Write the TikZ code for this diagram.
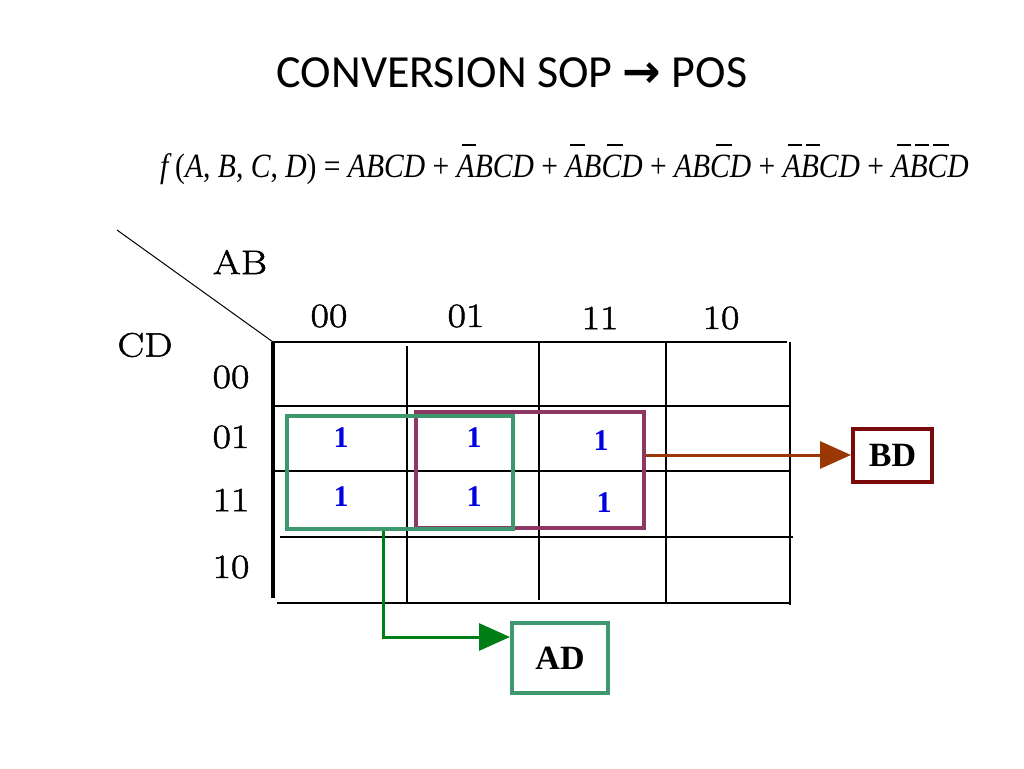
\documentclass[tikz,border=0pt]{standalone}
\usepackage{fontspec}
\usetikzlibrary{arrows.meta}
\newfontfamily\calib{Carlito}
\newfontfamily\tnr{Liberation Serif}
\newfontfamily\fml[FakeStretch=0.87]{Liberation Serif}
\newfontfamily\kfont[FakeStretch=1.18,FakeBold=1.5]{Latin Modern Roman}
\newfontfamily\arrowfont{DejaVu Sans}
\definecolor{loopgreen}{RGB}{62,152,110}
\definecolor{looppurple}{RGB}{140,55,100}
\definecolor{arrbrown}{RGB}{155,55,5}
\definecolor{arrgreen}{RGB}{0,125,20}
\definecolor{bdred}{RGB}{125,10,10}
\definecolor{oneblue}{RGB}{0,0,225}
\newcommand\ob[1]{\setbox0=\hbox{#1}\makebox[0pt][l]{\hspace*{0.28\wd0}\raisebox{0.92em}{\rule{0.8\wd0}{0.05em}}}#1}
\newcommand\I[1]{{\itshape #1}}
\begin{document}
\begin{tikzpicture}[x=1pt,y=-1pt,
  gridline/.style={line width=2pt,black},
  lbl/.style={inner sep=0pt,font=\kfont\fontsize{34}{40}\selectfont},
  one/.style={inner sep=0pt,text=oneblue,font=\tnr\bfseries\fontsize{30}{34}\selectfont},
  loopbox/.style={draw,line width=4pt,minimum width=#1,inner sep=0pt},
  resbox/.style={draw,line width=4pt,inner sep=0pt,font=\tnr\bfseries\fontsize{34}{40}\selectfont},
  conn/.style={line width=3pt,-{Triangle[length=31pt,width=27pt]}}]
\useasboundingbox (0,0) rectangle (1024,768);
\fill[white] (0,0) rectangle (1024,768);
% title
\node[font=\calib\fontsize{46}{54}\selectfont,inner sep=0pt] (title) at (512,73) {CONVERSION SOP {\arrowfont\bfseries →} POS};
% formula
\node[anchor=base west,inner sep=0pt,font=\fml\fontsize{34}{40}\selectfont] (formula) at (160,177)
  {\I{f}\hspace{0.2em}(\I{A}, \I{B}, \I{C}, \I{D}) = \I{ABCD} + \I{\ob{A}BCD} + \I{\ob{A}B\ob{C}D} + \I{AB\ob{C}D} + \I{\ob{A}\ob{B}CD} + \I{\ob{A}\ob{B}\ob{C}D}};
% diagonal
\coordinate (diagstart) at (117,230);
\coordinate (corner) at (273,342);
\draw[line width=1pt] (diagstart) -- (corner);
% grid
\draw[line width=3.5pt] (273,342) -- (273,598);
\draw[gridline] (407,346) -- (407,603);
\draw[gridline] (539,342) -- (539,600);
\draw[gridline] (666,342) -- (666,603);
\draw[gridline] (790,342) -- (790,605);
\draw[gridline] (273,342) -- (787,342);
\draw[gridline] (273,406) -- (790,406);
\draw[gridline] (273,471) -- (790,471);
\draw[gridline] (280,537) -- (793,537);
\draw[gridline] (277,603) -- (791,603);
% labels
\node[lbl] (ab) at (240,262) {AB};
\node[lbl] (cd) at (145,345) {CD};
\node[lbl] (c00) at (329,316) {00};
\node[lbl] (c01) at (466,316) {01};
\node[lbl] (c11) at (600,318) {11};
\node[lbl] (c10) at (721,318) {10};
\node[lbl] (r00) at (231,377) {00};
\node[lbl] (r01) at (231,437) {01};
\node[lbl] (r11) at (231,500) {11};
\node[lbl] (r10) at (231,567) {10};
% ones
\node[one] (m1) at (341,438) {1};
\node[one] (m5) at (474,438) {1};
\node[one] (m13) at (601,441) {1};
\node[one] (m3) at (341,497) {1};
\node[one] (m7) at (474,497) {1};
\node[one] (m15) at (604,503) {1};
% loops
\node[loopbox=228pt,minimum height=116pt,draw=looppurple] (pbox) at (530,470) {};
\node[loopbox=226pt,minimum height=113pt,draw=loopgreen] (gbox) at (400,472.5) {};
% result boxes
\node[resbox,draw=bdred,minimum width=79pt,minimum height=53pt] (bd) at (892.5,455) {BD};
\node[resbox,draw=loopgreen,minimum width=96pt,minimum height=70pt] (ad) at (560,658) {AD};
% connectors
\draw[conn,arrbrown] (bd.west -| pbox.east) -- (bd.west);
\draw[conn,arrgreen] ([xshift=-17pt]gbox.south) |- ([yshift=21pt]ad.west);
\end{tikzpicture}
\end{document}
